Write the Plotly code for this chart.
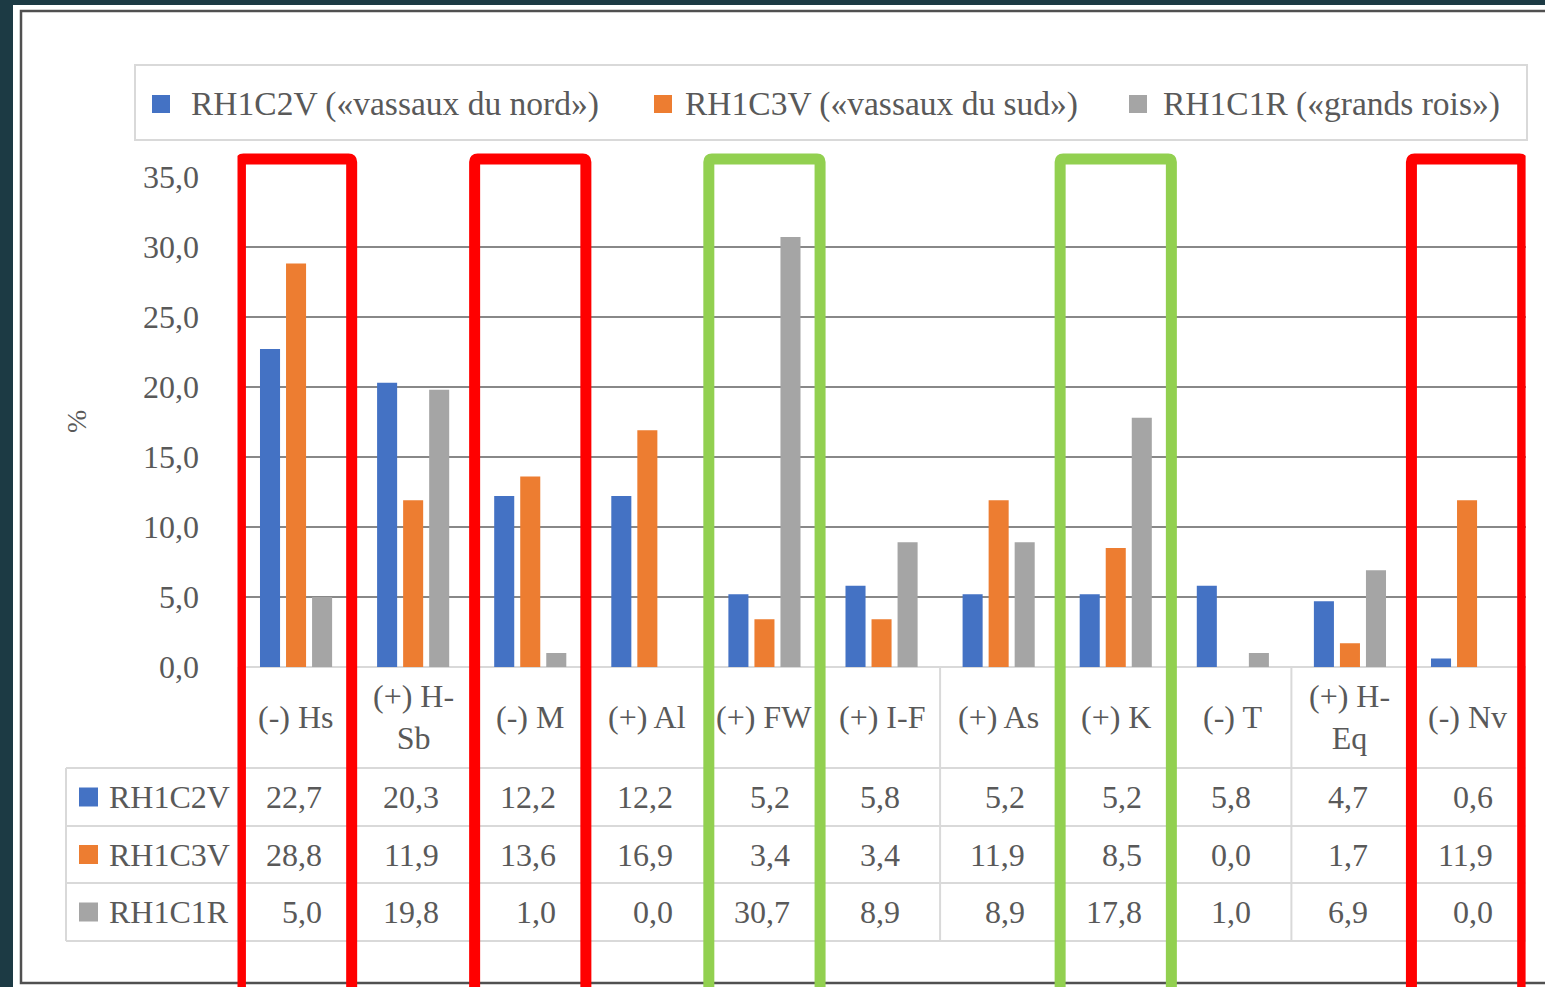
import plotly.graph_objects as go

# ---------------- data ----------------
categories = ["(-) Hs", "(+) H-<br>Sb", "(-) M", "(+) Al", "(+) FW", "(+) I-F",
              "(+) As", "(+) K", "(-) T", "(+) H-<br>Eq", "(-) Nv"]
series_short = ["RH1C2V", "RH1C3V", "RH1C1R"]
series_long = ["RH1C2V («vassaux du nord»)", "RH1C3V («vassaux du sud»)",
               "RH1C1R («grands rois»)"]
rh1c2v = [22.7, 20.3, 12.2, 12.2, 5.2, 5.8, 5.2, 5.2, 5.8, 4.7, 0.6]
rh1c3v = [28.8, 11.9, 13.6, 16.9, 3.4, 3.4, 11.9, 8.5, 0.0, 1.7, 11.9]
rh1c1r = [5.0, 19.8, 1.0, 0.0, 30.7, 8.9, 8.9, 17.8, 1.0, 6.9, 0.0]
y_ticks = [0, 5, 10, 15, 20, 25, 30, 35]
y_title = "%"
red_boxes = [0, 2, 10]
green_boxes = [4, 7]

# ---------------- style ----------------
W, H = 1545, 987
colors = ["#4472C4", "#ED7D31", "#A5A5A5"]
FONT = "Liberation Serif"
TXT = "#595959"
FS = 32
FS_LEG = 33.5
GRID = "#888888"
TBL = "#D9D9D9"

def px(x):
    return x / W

def py(y):
    return 1 - y / H

def fmt(v):
    return f"{v:.1f}".replace(".", ",")

series = [rh1c2v, rh1c3v, rh1c1r]
n = len(categories)
xs = list(range(n))
x_left, x_right = 237.5, 1525.6
cat_px = (x_right - x_left) / n

fig = go.Figure()
for name, vals, col in zip(series_short, series, colors):
    fig.add_trace(go.Bar(x=xs, y=vals, name=name, marker_color=col,
                         marker_line_width=0, showlegend=False))

shapes = []
annotations = []

# page background (white sheet) and frame border
shapes.append(dict(type="rect", xref="paper", yref="paper", x0=px(13), x1=1.01,
                   y0=-0.01, y1=py(5), fillcolor="white", line_width=0, layer="below"))
shapes.append(dict(type="path", xref="paper", yref="paper",
                   path=f"M {px(1560)} {py(11)} L {px(21)} {py(11)} L {px(21)} {py(983)} L {px(1560)} {py(983)}",
                   line=dict(color="#505050", width=2.5), layer="below"))

# legend box
shapes.append(dict(type="rect", xref="paper", yref="paper", x0=px(135), x1=px(1527),
                   y0=py(140), y1=py(65), line=dict(color=TBL, width=2), layer="below"))
leg_sq_x = [152, 654, 1129]
leg_tx_x = [189, 683, 1161]
for lbl, col, sx, tx in zip(series_long, colors, leg_sq_x, leg_tx_x):
    shapes.append(dict(type="rect", xref="paper", yref="paper", x0=px(sx), x1=px(sx + 18),
                       y0=py(113), y1=py(95), fillcolor=col, line_width=0))
    annotations.append(dict(xref="paper", yref="paper", x=px(tx), y=py(104), text=lbl,
                            showarrow=False, xanchor="left", yanchor="middle",
                            font=dict(family=FONT, size=FS_LEG, color=TXT)))

# data table grid
row_lines = [768, 826, 883, 941]
row_centers = [797, 854.5, 912]
for yl in row_lines:
    shapes.append(dict(type="line", xref="paper", yref="paper", x0=px(66), x1=px(x_right),
                       y0=py(yl), y1=py(yl), line=dict(color=TBL, width=2), layer="below"))
shapes.append(dict(type="line", xref="paper", yref="paper", x0=px(66), x1=px(66),
                   y0=py(768), y1=py(941), line=dict(color=TBL, width=2), layer="below"))
for b in range(n + 1):
    shapes.append(dict(type="line", xref="x", yref="paper", x0=b - 0.5, x1=b - 0.5,
                       y0=py(667), y1=py(941), line=dict(color=TBL, width=2), layer="below"))

# category header labels
for i, c in enumerate(categories):
    annotations.append(dict(xref="x", yref="paper", x=i, y=py(717), text=c, showarrow=False,
                            xanchor="center", yanchor="middle",
                            font=dict(family=FONT, size=FS, color=TXT)))

# row labels with colour keys
for name, col, yc in zip(series_short, colors, row_centers):
    shapes.append(dict(type="rect", xref="paper", yref="paper", x0=px(79), x1=px(98),
                       y0=py(yc + 9.5), y1=py(yc - 9.5), fillcolor=col, line_width=0))
    annotations.append(dict(xref="paper", yref="paper", x=px(107), y=py(yc), text=name,
                            showarrow=False, xanchor="left", yanchor="middle",
                            font=dict(family=FONT, size=FS, color=TXT)))

# cell values: right-aligned block centred on widest value of each column
def text_w(s):
    return sum(0.25 * FS if ch == "," else 0.5 * FS for ch in s)

for i in range(n):
    strs = [fmt(s[i]) for s in series]
    half = max(text_w(s) for s in strs) / 2
    for s, yc in zip(strs, row_centers):
        annotations.append(dict(xref="x", yref="paper", x=i, y=py(yc), text=s,
                                showarrow=False, xanchor="right", yanchor="middle",
                                xshift=half, font=dict(family=FONT, size=FS, color=TXT)))

# y-axis title
annotations.append(dict(xref="paper", yref="paper", x=px(76), y=py(422), text=y_title,
                        textangle=-90, showarrow=False, xanchor="center", yanchor="middle",
                        font=dict(family=FONT, size=28, color=TXT)))

# highlight boxes (slightly rounded corners)
rx = 3 / cat_px
ry = 3 / H
for idx_list, col in ((red_boxes, "#FF0000"), (green_boxes, "#92D050")):
    for i in idx_list:
        x0, x1 = i - 0.475, i + 0.475
        yt, yb = py(159), py(1000)
        path = (f"M {x0} {yb} L {x0} {yt - ry} Q {x0} {yt} {x0 + rx} {yt} "
                f"L {x1 - rx} {yt} Q {x1} {yt} {x1} {yt - ry} L {x1} {yb}")
        shapes.append(dict(type="path", xref="x", yref="paper", path=path,
                           line=dict(color=col, width=11), layer="above"))

fig.update_layout(
    width=W, height=H, autosize=False,
    margin=dict(l=0, r=0, t=0, b=0, pad=0, autoexpand=False),
    paper_bgcolor="#1c3a44",
    plot_bgcolor="rgba(0,0,0,0)",
    barmode="group", bargap=0.333, bargroupgap=0.23,
    xaxis=dict(domain=[px(x_left), px(x_right)], range=[-0.5, n - 0.5],
               showgrid=False, zeroline=False, showticklabels=False, showline=False,
               automargin=False, fixedrange=True),
    yaxis=dict(domain=[py(667), py(176.7)], range=[0, 35], tickvals=y_ticks,
               ticktext=[fmt(v) for v in y_ticks], showgrid=True, gridcolor=GRID,
               gridwidth=2, zeroline=True, zerolinecolor=TBL, zerolinewidth=2,
               showline=False, ticks="outside", ticklen=31, tickcolor="rgba(0,0,0,0)",
               automargin=False,
               tickfont=dict(family=FONT, size=FS, color=TXT), fixedrange=True),
    shapes=shapes,
    annotations=annotations,
    font=dict(family=FONT, color=TXT),
)

fig.write_html("out.html", config={"displayModeBar": False},
               post_script="document.body.style.margin='0';document.body.style.overflow='hidden';")
